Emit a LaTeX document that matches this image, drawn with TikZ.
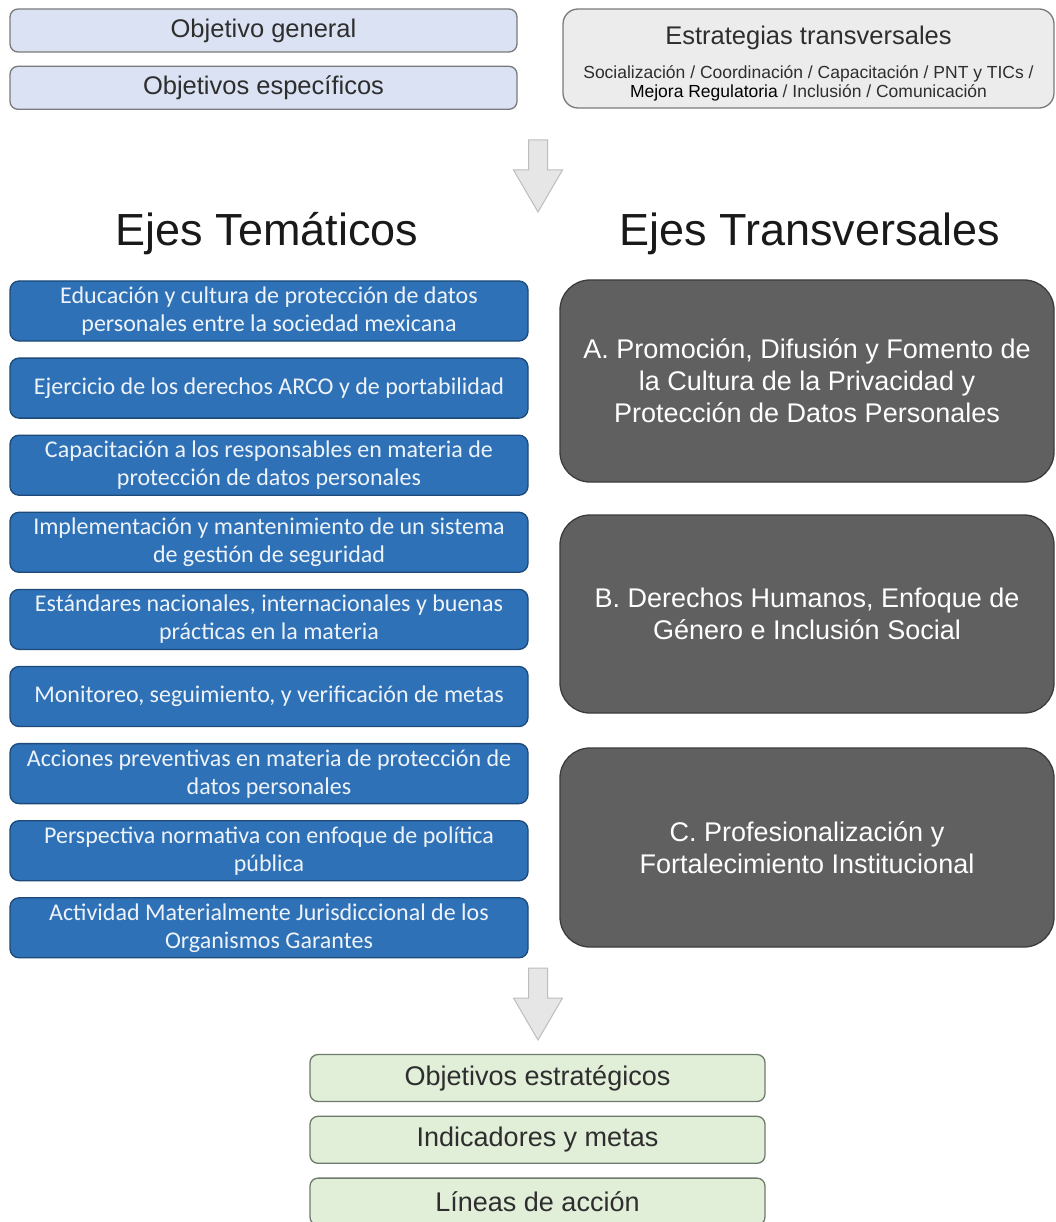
\documentclass[tikz,border=0pt]{standalone}
\usepackage{fontspec}
\setmainfont{Liberation Sans}
\newfontfamily\calibri{Carlito}
\usetikzlibrary{positioning}

\definecolor{objfill}{HTML}{DAE2F3}
\definecolor{estfill}{HTML}{ECECEC}
\definecolor{boxline}{HTML}{7A7A7A}
\definecolor{ejefill}{HTML}{2E71B6}
\definecolor{ejeline}{HTML}{1D4A78}
\definecolor{ejetext}{HTML}{EEF3FA}
\definecolor{transfill}{HTML}{606060}
\definecolor{transline}{HTML}{3C3C3C}
\definecolor{metafill}{HTML}{E1EED8}
\definecolor{metaline}{HTML}{6E7B6C}
\definecolor{arrfill}{HTML}{E6E6E6}
\definecolor{arrline}{HTML}{BDBDBD}
\definecolor{txtdark}{HTML}{2E2E2E}

\newcommand{\smalltxt}{\fontsize{17.5}{19.5}\selectfont}

\tikzset{
  topbox/.style={draw=boxline,line width=1.3pt,rounded corners=8pt,align=center,
    text=txtdark,inner sep=2pt},
  ejebox/.style={draw=ejeline,line width=1.3pt,fill=ejefill,rounded corners=9pt,
    align=center,text=ejetext,minimum width=518pt,minimum height=60pt,inner sep=2pt,
    font=\calibri\fontsize{24}{28}\selectfont},
  transbox/.style={draw=transline,line width=1.3pt,fill=transfill,rounded corners=30pt,
    align=center,text=white,minimum width=494pt,inner sep=2pt,
    font=\fontsize{27}{32}\selectfont},
  metabox/.style={draw=metaline,line width=1.3pt,fill=metafill,rounded corners=8pt,
    text=txtdark,minimum width=455pt,minimum height=47pt,inner sep=2pt,
    font=\fontsize{27}{30}\selectfont},
  heading/.style={anchor=base,text=black!90,font=\fontsize{45}{50}\selectfont},
  blockarrow/.pic={
    \draw[draw=arrline,fill=arrfill,line width=1pt,line join=miter]
      (-9.5,0) -- (-9.5,30) -- (-24.5,30) -- (0,72) -- (24.5,30) -- (9.5,30) -- (9.5,0) -- cycle;
  }
}

\begin{document}
\begin{tikzpicture}[x=1pt,y=-1pt]
  \useasboundingbox (0,0) rectangle (1056,1222);

  % top row
  \node[topbox,fill=objfill,minimum width=507pt,minimum height=43pt,
        font=\fontsize{25.5}{28}\selectfont] (og) at (263.5,30.5) {Objetivo general};
  \node[topbox,fill=objfill,minimum width=507pt,minimum height=43pt,
        font=\fontsize{25.5}{28}\selectfont,below=13pt of og] (oe) {Objetivos específicos};
  \node[topbox,fill=estfill,rounded corners=15pt,minimum width=491pt,minimum height=99pt,
        font=\fontsize{25.5}{28}\selectfont] (est) at (808.5,58.5)
       {\rule{0pt}{29pt}Estrategias transversales\\[6pt]
        \smalltxt Socialización / Coordinación / Capacitación / PNT y TICs /\\[-9pt]
        \smalltxt \textcolor{black}{Mejora Regulatoria} / Inclusión / Comunicación};

  \coordinate (arr1) at (538,140);
  \pic at (arr1) {blockarrow};

  % headings
  \node[heading] (ht) at (267,246) {Ejes Temáticos};
  \node[heading] (htr) at (810,246) {Ejes Transversales};

  % ejes tematicos
  \node[ejebox] (e1) at (269,311) {Educación y cultura de protección de datos\\ personales entre la sociedad mexicana};
  \node[ejebox,below=15.8pt of e1] (e2) {Ejercicio de los derechos ARCO y de portabilidad};
  \node[ejebox,below=15.8pt of e2] (e3) {Capacitación a los responsables en materia de\\ protección de datos personales};
  \node[ejebox,below=15.8pt of e3] (e4) {Implementación y mantenimiento de un sistema\\ de gestión de seguridad};
  \node[ejebox,below=15.8pt of e4] (e5) {Estándares nacionales, internacionales y buenas\\ prácticas en la materia};
  \node[ejebox,below=15.8pt of e5] (e6) {Monitoreo, seguimiento, y verificación de metas};
  \node[ejebox,below=15.8pt of e6] (e7) {Acciones preventivas en materia de protección de\\ datos personales};
  \node[ejebox,below=15.8pt of e7] (e8) {Perspectiva normativa con enfoque de política\\ pública};
  \node[ejebox,below=15.8pt of e8] (e9) {Actividad Materialmente Jurisdiccional de los\\ Organismos Garantes};

  % ejes transversales
  \node[transbox,minimum height=202pt] (ta) at (807,381)
       {A. Promoción, Difusión y Fomento de\\ la Cultura de la Privacidad y\\ Protección de Datos Personales};
  \node[transbox,minimum height=198pt] (tb) at (807,614)
       {B. Derechos Humanos, Enfoque de\\ Género e Inclusión Social};
  \node[transbox,minimum height=199pt] (tc) at (807,847.5)
       {C. Profesionalización y\\ Fortalecimiento Institucional};

  \coordinate (arr2) at (538,968);
  \pic at (arr2) {blockarrow};

  % bottom
  \node[metabox] (m1) at (537.5,1078) {Objetivos estratégicos};
  \node[metabox,below=13.5pt of m1] (m2) {Indicadores y metas};
  \node[metabox,below=13.5pt of m2] (m3) {Líneas de acción};
\end{tikzpicture}
\end{document}
